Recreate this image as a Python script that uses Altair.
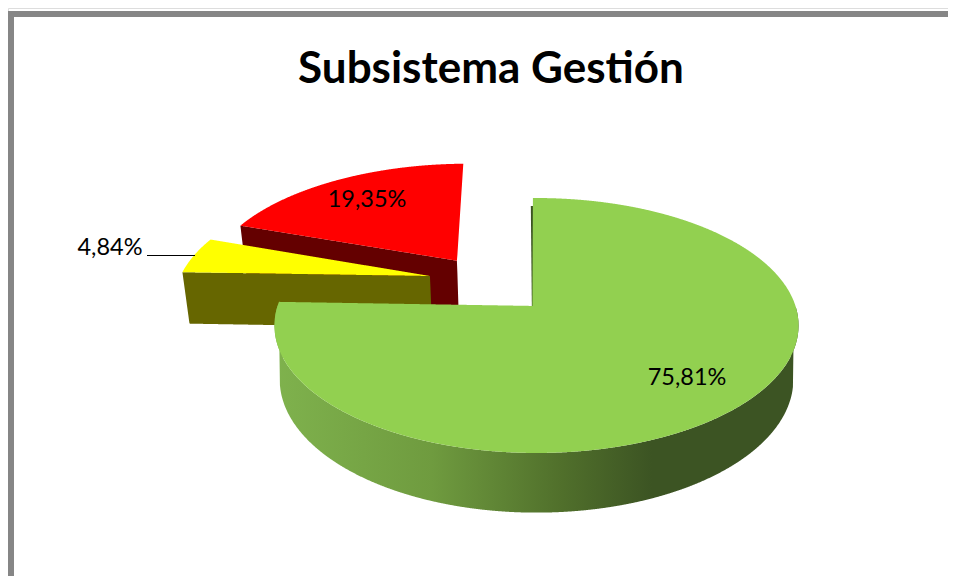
import math
import altair as alt
import pandas as pd

# --- chart values ---
shares = [75.81, 4.84, 19.35]
labels = ["75,81%", "4,84%", "19,35%"]
top_colors = ["#92d050", "#ffff00", "#ff0000"]
wall_colors = ["#3c5423", "#666600", "#640000"]
TITLE = "Subsistema Gestión"

# --- tilted-pie geometry (window pixels) ---
CX, CY = 536.5, 306.0
B, A, K = 259.0, 124.5, 0.153
DEPTH, SHRINK = 53.0, 0.98
THETA0 = -1.0
offsets = [(0.0, 0.0), (-0.427, 0.25), (-0.325, 0.385)]   # exploded slices, in disc units


def project(u, v):
    w = 1 + K * v
    return CX + B * u / w, CY - A * v / w


def drop(u, v):
    x, y = project(u, v)
    w = 1 + K * v
    return CX + SHRINK * (x - CX), CY + SHRINK * (y - CY) + DEPTH / w


def disc(theta, off):
    t = math.radians(theta)
    return math.sin(t) + off[0], math.cos(t) + off[1]


def rows(poly, step=0.5):
    """Vertical spans of a polygon, for an area mark."""
    xs = [p[0] for p in poly]
    lo, hi = min(xs), max(xs)
    n = int((hi - lo) / step) + 1
    out = []
    for i in range(n + 1):
        x = min(lo + i * step, hi)
        ys = []
        for (x1, y1), (x2, y2) in zip(poly, poly[1:] + poly[:1]):
            if min(x1, x2) <= x <= max(x1, x2):
                if x1 == x2:
                    ys += [y1, y2]
                else:
                    ys.append(y1 + (y2 - y1) * (x - x1) / (x2 - x1))
        if ys:
            out.append({"x": round(x, 2), "y": round(min(ys), 2), "y2": round(max(ys), 2)})
    return pd.DataFrame(out)


SX = alt.Scale(domain=[8, 948], range=[0, 940], nice=False, zero=False)
SY = alt.Scale(domain=[8, 576], range=[0, 568], nice=False, zero=False)


def area(poly, fill):
    return alt.Chart(rows(poly)).mark_area(color=fill, interpolate="linear").encode(
        x=alt.X("x:Q", scale=SX, axis=None),
        y=alt.Y("y:Q", scale=SY, axis=None),
        y2="y2:Q",
    )


# slice angle ranges
angles = []
start = THETA0
for s in shares:
    angles.append((start, start + s * 3.6))
    start += s * 3.6


def top_poly(i):
    a, b = angles[i]
    off = offsets[i]
    n = max(int(b - a), 2)
    pts = [project(*disc(a + (b - a) * j / n, off)) for j in range(n + 1)]
    return [project(off[0], off[1])] + pts


def face_poly(i):
    """Radial wall at the start of a slice."""
    off = offsets[i]
    c = (off[0], off[1])
    e = disc(angles[i][0], off)
    return [project(*c), project(*e), drop(*e), drop(*c)]


def rim_poly():
    off = offsets[0]
    front = [t / 2 for t in range(2 * 90, 2 * 271)]
    a = [project(*disc(t, off)) for t in front]
    b = [drop(*disc(t, off)) for t in front]
    return a + b[::-1]


layers = []

# frame
frame = pd.DataFrame({"x": [8, 948], "y": [14, 14]})
layers.append(alt.Chart(frame).mark_line(color="#868686", strokeWidth=6).encode(
    x=alt.X("x:Q", scale=SX, axis=None), y=alt.Y("y:Q", scale=SY, axis=None)))
frame2 = pd.DataFrame({"x": [11, 11], "y": [11, 576]})
layers.append(alt.Chart(frame2).mark_line(color="#868686", strokeWidth=6).encode(
    x=alt.X("x:Q", scale=SX, axis=None), y=alt.Y("y:Q", scale=SY, axis=None)))

# red, yellow, then green in front
layers.append(area(face_poly(2), wall_colors[2]))
layers.append(area(top_poly(2), top_colors[2]))
layers.append(area(face_poly(1), wall_colors[1]))
layers.append(area(top_poly(1), top_colors[1]))

rim_fill = alt.Gradient(
    gradient="linear", x1=0, x2=1, y1=0, y2=0,
    stops=[
        alt.GradientStop(color="#7fb24d", offset=0),
        alt.GradientStop(color="#6f9b3f", offset=0.3),
        alt.GradientStop(color="#506f2b", offset=0.55),
        alt.GradientStop(color="#3c5423", offset=0.72),
        alt.GradientStop(color="#3c5423", offset=1),
    ],
)
layers.append(area(rim_poly(), rim_fill))

# thin inner wall of the green slice
gx, gy = project(*disc(angles[0][0], offsets[0]))
wall = pd.DataFrame({"x": [gx - 0.5, gx + 0.5], "y": [gy + 8, CY]})
layers.append(alt.Chart(wall).mark_line(color=wall_colors[0], strokeWidth=2.5).encode(
    x=alt.X("x:Q", scale=SX, axis=None), y=alt.Y("y:Q", scale=SY, axis=None)))
layers.append(area(top_poly(0), top_colors[0]))

# leader line
lead = pd.DataFrame({"x": [147, 195], "y": [255.5, 255.5]})
layers.append(alt.Chart(lead).mark_line(color="#000000", strokeWidth=1).encode(
    x=alt.X("x:Q", scale=SX, axis=None), y=alt.Y("y:Q", scale=SY, axis=None)))

# data labels
label_df = pd.DataFrame({"t": labels, "x": [687, 110, 367], "y": [378, 248, 200]})
layers.append(alt.Chart(label_df).mark_text(
    font="Lato", fontSize=23.5, color="#000000", align="center", baseline="middle"
).encode(
    x=alt.X("x:Q", scale=SX, axis=None), y=alt.Y("y:Q", scale=SY, axis=None), text="t:N"))

chart = alt.layer(*layers).properties(
    width=940,
    height=568,
    padding=0,
    autosize=alt.AutoSizeParams(type="none"),
    title=alt.TitleParams(
        TITLE, font="Lato", fontSize=44, fontWeight="bold", color="#000000",
        anchor="middle", baseline="alphabetic", dx=13, dy=128, offset=0,
    ),
).configure_view(stroke=None).configure(background="#ffffff")

chart.save("out.html", embed_options={"renderer": "svg", "actions": False})
